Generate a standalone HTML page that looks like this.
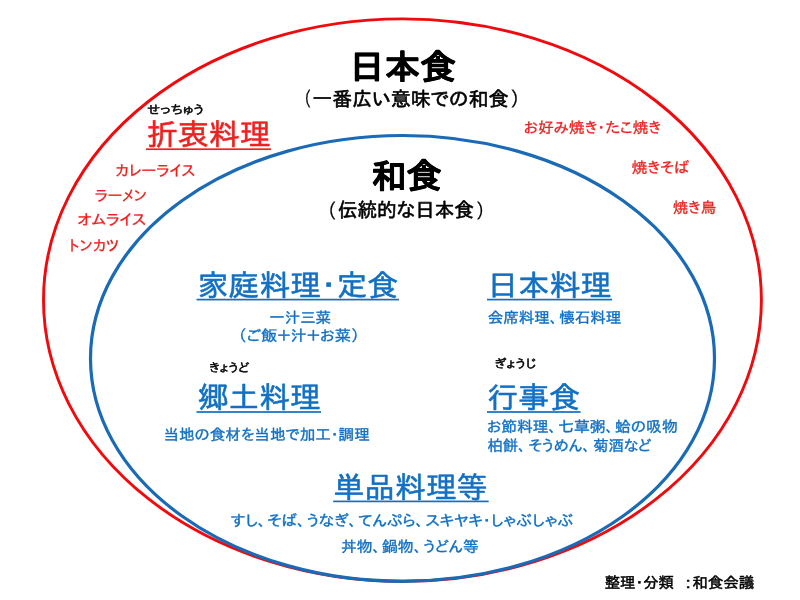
<!DOCTYPE html>
<html lang="ja">
<head>
<meta charset="utf-8">
<title>日本食と和食</title>
<style>
html,body{margin:0;padding:0;background:#fff;}
body{width:800px;height:600px;overflow:hidden;}
svg{display:block;will-change:transform;}
text{font-family:"Liberation Sans", "IPAPGothic", "IPAGothic", "Noto Sans CJK JP", sans-serif;text-rendering:geometricPrecision;stroke-linejoin:round;}
</style>
</head>
<body>
<svg width="800" height="600" viewBox="0 0 800 600">
<ellipse id="e1" cx="402.45" cy="300.1" rx="358.95" ry="281.2" fill="none" stroke="#f00a0e" stroke-width="2.9"/>
<ellipse id="e2" cx="402.5" cy="358.4" rx="312" ry="222.9" fill="none" stroke="#1a6ab6" stroke-width="3.2"/>
<text id="t1" x="349.31" y="79.45" font-size="34.2" fill="#000000" font-weight="bold" textLength="106.32" lengthAdjust="spacingAndGlyphs" stroke="#000000" stroke-width="0.6">日本食</text>
<text id="t2a" x="302.98" y="106.4" font-size="19.8" fill="#000000" textLength="8.23" lengthAdjust="spacingAndGlyphs" stroke="#000000" stroke-width="0.3">（</text>
<text id="t2" x="312.23" y="105.6" font-size="19.8" fill="#000000" textLength="196.2" lengthAdjust="spacingAndGlyphs" stroke="#000000" stroke-width="0.62">一番広い意味での和食</text>
<text id="t2b" x="510.32" y="106.4" font-size="19.8" fill="#000000" textLength="10.31" lengthAdjust="spacingAndGlyphs" stroke="#000000" stroke-width="0.3">）</text>
<text id="t3" x="147.22" y="113.9" font-size="12.2" fill="#000000" textLength="56.61" lengthAdjust="spacingAndGlyphs" stroke="#000000" stroke-width="0.5">せっちゅう</text>
<text id="t4" x="146.7" y="144.75" font-size="29.8" fill="#ec2220" textLength="124.04" lengthAdjust="spacingAndGlyphs" stroke="#ec2220" stroke-width="0.55">折衷料理</text>
<rect id="t4_ul" x="146" y="148.35" width="125" height="1.7" fill="#ec2220"/>
<text id="t5" x="115.22" y="175.5" font-size="15.2" fill="#ec2220" textLength="80.06" lengthAdjust="spacingAndGlyphs" stroke="#ec2220" stroke-width="0.3">カレーライス</text>
<text id="t6" x="94.75" y="200.5" font-size="15.2" fill="#ec2220" textLength="52.26" lengthAdjust="spacingAndGlyphs" stroke="#ec2220" stroke-width="0.3">ラーメン</text>
<text id="t7" x="77.47" y="224.85" font-size="15.2" fill="#ec2220" textLength="68.72" lengthAdjust="spacingAndGlyphs" stroke="#ec2220" stroke-width="0.3">オムライス</text>
<text id="t8" x="68.74" y="250.5" font-size="15.2" fill="#ec2220" textLength="50.18" lengthAdjust="spacingAndGlyphs" stroke="#ec2220" stroke-width="0.3">トンカツ</text>
<text id="t9" x="523.72" y="133.15" font-size="15.2" fill="#ec2220" textLength="137.41" lengthAdjust="spacingAndGlyphs" stroke="#ec2220" stroke-width="0.3">お好み焼き・たこ焼き</text>
<text id="t10" x="631.48" y="173" font-size="15.2" fill="#ec2220" textLength="57.72" lengthAdjust="spacingAndGlyphs" stroke="#ec2220" stroke-width="0.3">焼きそば</text>
<text id="t11" x="672.74" y="213.3" font-size="15.2" fill="#ec2220" textLength="43.35" lengthAdjust="spacingAndGlyphs" stroke="#ec2220" stroke-width="0.3">焼き鳥</text>
<text id="t12" x="371.48" y="188.25" font-size="34.2" fill="#000000" font-weight="bold" textLength="69.91" lengthAdjust="spacingAndGlyphs" stroke="#000000" stroke-width="0.6">和食</text>
<text id="t13a" x="326.64" y="217.65" font-size="19.8" fill="#000000" textLength="9.76" lengthAdjust="spacingAndGlyphs" stroke="#000000" stroke-width="0.3">（</text>
<text id="t13" x="338.01" y="217.15" font-size="19.8" fill="#000000" textLength="135.77" lengthAdjust="spacingAndGlyphs" stroke="#000000" stroke-width="0.6">伝統的な日本食</text>
<text id="t13b" x="475.89" y="217.65" font-size="19.8" fill="#000000" textLength="9.68" lengthAdjust="spacingAndGlyphs" stroke="#000000" stroke-width="0.3">）</text>
<text id="t14" x="197.69" y="295.55" font-size="29.8" fill="#1270c4" textLength="200.52" lengthAdjust="spacingAndGlyphs" stroke="#1270c4" stroke-width="0.55">家庭料理・定食</text>
<rect id="t14_ul" x="196.5" y="298.75" width="202.5" height="1.7" fill="#1270c4"/>
<text id="t15" x="269.23" y="322.75" font-size="15.2" fill="#1270c4" textLength="61.83" lengthAdjust="spacingAndGlyphs" stroke="#1270c4" stroke-width="0.4">一汁三菜</text>
<text id="t16" x="237.8" y="341.35" font-size="15.2" fill="#1270c4" textLength="122.12" lengthAdjust="spacingAndGlyphs" stroke="#1270c4" stroke-width="0.4">（ご飯＋汁＋お菜）</text>
<text id="t17" x="487.28" y="295.8" font-size="29.8" fill="#1270c4" textLength="124.37" lengthAdjust="spacingAndGlyphs" stroke="#1270c4" stroke-width="0.55">日本料理</text>
<rect id="t17_ul" x="487" y="298.75" width="125.1" height="1.7" fill="#1270c4"/>
<text id="t18" x="487.73" y="323.3" font-size="15.2" fill="#1270c4" textLength="133.59" lengthAdjust="spacingAndGlyphs" stroke="#1270c4" stroke-width="0.4">会席料理、<tspan dx="1.6">懐石料理</tspan></text>
<text id="t19" x="208.95" y="372.3" font-size="12.2" fill="#000000" textLength="40.33" lengthAdjust="spacingAndGlyphs" stroke="#000000" stroke-width="0.5">きょうど</text>
<text id="t20" x="197.72" y="408.25" font-size="29.8" fill="#1270c4" textLength="123.11" lengthAdjust="spacingAndGlyphs" stroke="#1270c4" stroke-width="0.55">郷土料理</text>
<rect id="t20_ul" x="196.5" y="411.15" width="124.5" height="1.7" fill="#1270c4"/>
<text id="t21" x="163.45" y="439.93" font-size="15.2" fill="#1270c4" textLength="206.36" lengthAdjust="spacingAndGlyphs" stroke="#1270c4" stroke-width="0.4">当地の食材を当地で加工・調理</text>
<text id="t22" x="494.43" y="368.2" font-size="12.2" fill="#000000" textLength="41.56" lengthAdjust="spacingAndGlyphs" stroke="#000000" stroke-width="0.5">ぎょうじ</text>
<text id="t23" x="487.2" y="408.25" font-size="29.8" fill="#1270c4" textLength="92.86" lengthAdjust="spacingAndGlyphs" stroke="#1270c4" stroke-width="0.55">行事食</text>
<rect id="t23_ul" x="487" y="411.15" width="93.6" height="1.7" fill="#1270c4"/>
<text id="t24" x="486.95" y="432.05" font-size="15.2" fill="#1270c4" textLength="190.74" lengthAdjust="spacingAndGlyphs" stroke="#1270c4" stroke-width="0.4">お節料理、<tspan dx="1.6">七草粥</tspan>、<tspan dx="1.6">蛤の吸物</tspan></text>
<text id="t25" x="487.48" y="450.8" font-size="15.2" fill="#1270c4" textLength="163.92" lengthAdjust="spacingAndGlyphs" stroke="#1270c4" stroke-width="0.4">柏餅、<tspan dx="3">そうめん</tspan>、<tspan dx="3">菊酒など</tspan></text>
<text id="t26" x="333.45" y="497.75" font-size="29.8" fill="#1270c4" textLength="154.14" lengthAdjust="spacingAndGlyphs" stroke="#1270c4" stroke-width="0.55">単品料理等</text>
<rect id="t26_ul" x="333.2" y="500.55" width="155.5" height="1.7" fill="#1270c4"/>
<text id="t27" x="230.71" y="526.15" font-size="15.2" fill="#1270c4" textLength="342.52" lengthAdjust="spacingAndGlyphs" stroke="#1270c4" stroke-width="0.4">すし、<tspan dx="1.6">そば</tspan>、<tspan dx="1.6">うなぎ</tspan>、<tspan dx="1.6">てんぷら</tspan>、<tspan dx="1.6">スキヤキ・しゃぶしゃぶ</tspan></text>
<text id="t28" x="340.95" y="552.25" font-size="15.2" fill="#1270c4" textLength="137.83" lengthAdjust="spacingAndGlyphs" stroke="#1270c4" stroke-width="0.4">丼物、<tspan dx="1.6">鍋物</tspan>、<tspan dx="1.6">うどん等</tspan></text>
<text id="t29" x="604.74" y="587.95" font-size="15.2" fill="#000000" textLength="69.2" lengthAdjust="spacingAndGlyphs" stroke="#000000" stroke-width="0.5">整理・分類</text>
<text id="t30" x="685.47" y="588.2" font-size="15.2" fill="#000000" textLength="5.29" lengthAdjust="spacingAndGlyphs" stroke="#000000" stroke-width="0.5">:</text>
<text id="t31" x="692.23" y="587.95" font-size="15.2" fill="#000000" textLength="62.18" lengthAdjust="spacingAndGlyphs" stroke="#000000" stroke-width="0.5">和食会議</text>
</svg>
</body>
</html>
